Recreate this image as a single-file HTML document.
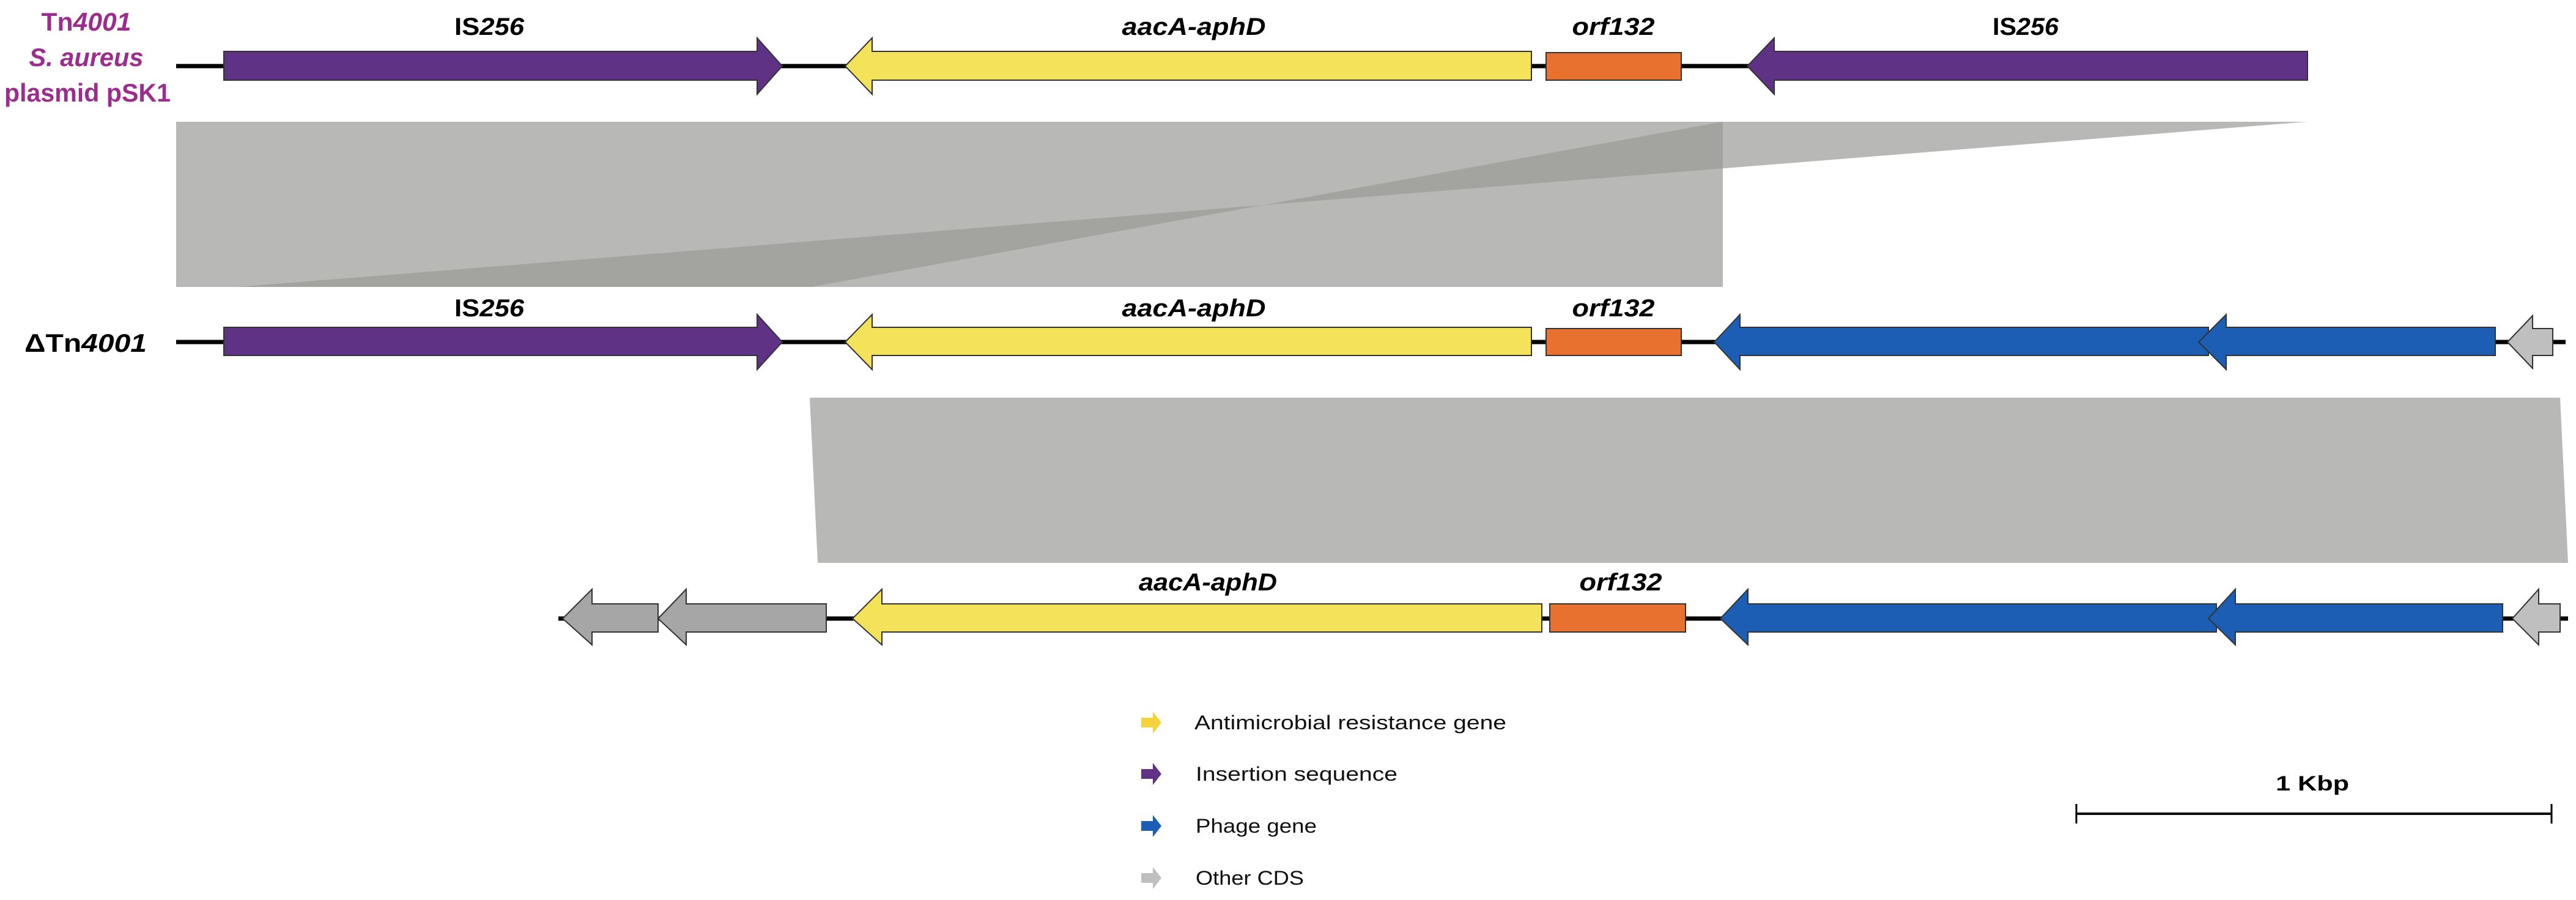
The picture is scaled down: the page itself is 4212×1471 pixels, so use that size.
<!DOCTYPE html>
<html><head><meta charset="utf-8"><style>
html,body{margin:0;padding:0;background:#fff;}
svg{display:block;}
text{font-family:"Liberation Sans",sans-serif;}
</style></head><body>
<svg width="4212" height="1471" viewBox="0 0 4212 1471" xmlns="http://www.w3.org/2000/svg">
<defs>
<clipPath id="rc"><rect x="288" y="199" width="2529" height="270"/></clipPath>
</defs>
<rect x="288" y="199" width="2529" height="270" fill="#b8b8b6"/>
<polygon points="2817,199 3773,199 388,469 1326,469" fill="#b8b8b6"/>
<polygon points="2817,199 3773,199 388,469 1326,469" fill="#a3a3a0" clip-path="url(#rc)"/>
<polygon points="1324,650 4186,650 4199,920 1337,920" fill="#b8b8b6"/>

<g stroke="#333" stroke-width="2" stroke-linejoin="miter">
<line x1="288" y1="108" x2="2860" y2="108" stroke="#000" stroke-width="7"/>
<polygon points="366,84 1238,84 1238,62 1279,108 1238,154 1238,131 366,131" fill="#5f3285"/>
<polygon points="2504,84 1426,84 1426,62 1382,108 1426,154 1426,131 2504,131" fill="#f5e25b"/>
<rect x="2528" y="86" width="221" height="45" fill="#e87130"/>
<polygon points="3773,84 2901,84 2901,62 2857,108 2901,154 2901,131 3773,131" fill="#5f3285"/>

<line x1="288" y1="559" x2="4195" y2="559" stroke="#000" stroke-width="7"/>
<polygon points="366,535 1238,535 1238,514 1279,559 1238,604 1238,581 366,581" fill="#5f3285"/>
<polygon points="2504,535 1426,535 1426,514 1382,559 1426,604 1426,581 2504,581" fill="#f5e25b"/>
<rect x="2528" y="537" width="221" height="44" fill="#e87130"/>
<polygon points="3611,535 2845,535 2845,514 2803,559 2845,604 2845,581 3611,581" fill="#1b5eb3"/>
<polygon points="4080,535 3640,535 3640,514 3595,559 3640,604 3640,581 4080,581" fill="#1b5eb3"/>
<polygon points="4174,537 4141,537 4141,516 4100,559 4141,602 4141,581 4174,581" fill="#bfbfbf"/>

<line x1="913" y1="1011" x2="4199" y2="1011" stroke="#000" stroke-width="7"/>
<polygon points="1076,987 968,987 968,963 920,1011 968,1054 968,1033 1076,1033" fill="#a6a6a6"/>
<polygon points="1351,987 1122,987 1122,963 1076,1011 1122,1054 1122,1033 1351,1033" fill="#a6a6a6"/>
<polygon points="2521,987 1442,987 1442,963 1394,1011 1442,1054 1442,1033 2521,1033" fill="#f5e25b"/>
<rect x="2534" y="987" width="222" height="46" fill="#e87130"/>
<polygon points="3624,987 2858,987 2858,963 2813,1011 2858,1054 2858,1033 3624,1033" fill="#1b5eb3"/>
<polygon points="4092,987 3655,987 3655,963 3611,1011 3655,1054 3655,1033 4092,1033" fill="#1b5eb3"/>
<polygon points="4186,987 4151,987 4151,963 4108,1011 4151,1054 4151,1033 4186,1033" fill="#bfbfbf"/>
</g>

<g fill="#9b2d8e" font-weight="bold" font-size="42" text-anchor="middle">
<text x="141" y="50" textLength="147" lengthAdjust="spacingAndGlyphs">Tn<tspan font-style="italic">4001</tspan></text>
<text x="141" y="108" textLength="187" lengthAdjust="spacingAndGlyphs" font-style="italic">S. aureus</text>
<text x="143" y="166" textLength="272" lengthAdjust="spacingAndGlyphs">plasmid pSK1</text>
</g>
<text x="140" y="575" font-size="42" font-weight="bold" text-anchor="middle" textLength="200" lengthAdjust="spacingAndGlyphs">ΔTn<tspan font-style="italic">4001</tspan></text>

<g font-size="40" font-weight="bold" text-anchor="middle" fill="#000">
<text x="800" y="57" textLength="114" lengthAdjust="spacingAndGlyphs">IS<tspan font-style="italic">256</tspan></text>
<text x="1952" y="57" font-style="italic" textLength="235" lengthAdjust="spacingAndGlyphs">aacA-aphD</text>
<text x="2638" y="57" font-style="italic" textLength="135" lengthAdjust="spacingAndGlyphs">orf132</text>
<text x="3312" y="57" textLength="108" lengthAdjust="spacingAndGlyphs">IS<tspan font-style="italic">256</tspan></text>

<text x="800" y="517" textLength="114" lengthAdjust="spacingAndGlyphs">IS<tspan font-style="italic">256</tspan></text>
<text x="1952" y="517" font-style="italic" textLength="235" lengthAdjust="spacingAndGlyphs">aacA-aphD</text>
<text x="2638" y="517" font-style="italic" textLength="135" lengthAdjust="spacingAndGlyphs">orf132</text>

<text x="1975" y="965" font-style="italic" textLength="226" lengthAdjust="spacingAndGlyphs">aacA-aphD</text>
<text x="2650" y="965" font-style="italic" textLength="135" lengthAdjust="spacingAndGlyphs">orf132</text>
</g>

<g stroke="none">
<polygon points="1866,1173 1885,1173 1885,1163 1899,1181 1885,1199 1885,1189 1866,1189" fill="#f5d33a"/>
<polygon points="1866,1257 1885,1257 1885,1247 1899,1265 1885,1283 1885,1273 1866,1273" fill="#5f3285"/>
<polygon points="1866,1342 1885,1342 1885,1332 1899,1350 1885,1368 1885,1358 1866,1358" fill="#1b5eb3"/>
<polygon points="1866,1427 1885,1427 1885,1417 1899,1435 1885,1453 1885,1443 1866,1443" fill="#bfbfbf"/>
</g>
<g font-size="32" fill="#111">
<text x="1953" y="1192" textLength="510" lengthAdjust="spacingAndGlyphs">Antimicrobial resistance gene</text>
<text x="1955" y="1276" textLength="330" lengthAdjust="spacingAndGlyphs">Insertion sequence</text>
<text x="1955" y="1361" textLength="198" lengthAdjust="spacingAndGlyphs">Phage gene</text>
<text x="1955" y="1446" textLength="177" lengthAdjust="spacingAndGlyphs">Other CDS</text>
</g>

<line x1="3394" y1="1330" x2="4173" y2="1330" stroke="#000" stroke-width="4"/>
<line x1="3395" y1="1314" x2="3395" y2="1346" stroke="#000" stroke-width="3"/>
<line x1="4172" y1="1314" x2="4172" y2="1346" stroke="#000" stroke-width="3"/>
<text x="3781" y="1292" font-size="34" font-weight="bold" text-anchor="middle" textLength="120" lengthAdjust="spacingAndGlyphs">1 Kbp</text>
</svg>
</body></html>
